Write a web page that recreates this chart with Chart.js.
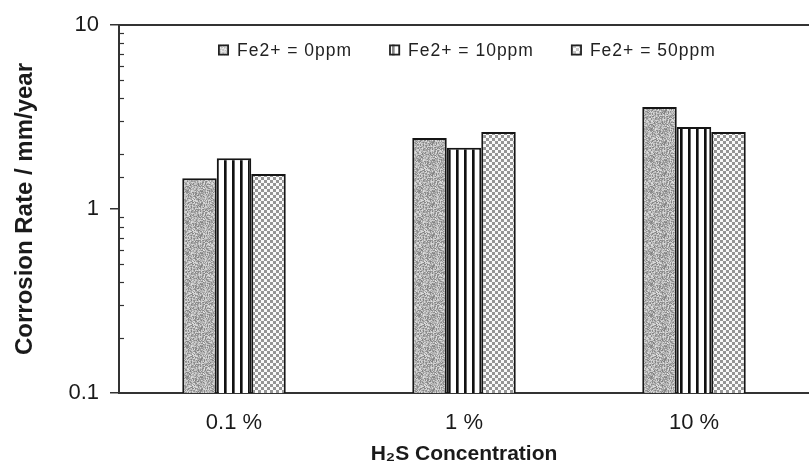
<!DOCTYPE html>
<html>
<head>
<meta charset="utf-8">
<script src="https://cdn.jsdelivr.net/npm/chart.js@4.4.1/dist/chart.umd.min.js"></script>
<style>
  html, body { margin: 0; padding: 0; background: #fff; }
  #wrap { width: 809px; height: 467px; }
</style>
</head>
<body>
<div id="wrap"><canvas id="chart"></canvas></div>
<script>
// data (log axis)
const categories = ['0.1 %', '1 %', '10 %'];
const seriesNames = ['Fe2+ = 0ppm', 'Fe2+ = 10ppm', 'Fe2+ = 50ppm'];
const fe0 = [1.47, 2.43, 3.58];
const fe10 = [1.89, 2.15, 2.79];
const fe50 = [1.55, 2.62, 2.62];
const yLabelled = [0.1, 1, 10];

const canvas = document.getElementById('chart');
const ctx = canvas.getContext('2d');

// fill textures for the bars
function tile(w, h, draw) {
  const c = document.createElement('canvas');
  c.width = w; c.height = h;
  draw(c.getContext('2d'));
  return ctx.createPattern(c, 'repeat');
}
function grain(x, y) {
  let h = (x * 374761393 + y * 668265263) | 0;
  h = Math.imul(h ^ (h >>> 13), 1274126177);
  return ((h ^ (h >>> 16)) >>> 0) % 97;
}
const speckle = tile(29, 31, g => {
  for (let x = 0; x < 29; x++) {
    for (let y = 0; y < 31; y++) {
      const v = 128 + grain(x, y);
      g.fillStyle = 'rgb(' + v + ',' + v + ',' + v + ')';
      g.fillRect(x, y, 1, 1);
    }
  }
});
const stripes = tile(8, 1, g => {
  g.fillStyle = '#fff'; g.fillRect(0, 0, 8, 1);
  g.fillStyle = '#111'; g.fillRect(0, 0, 2, 1);
  g.fillStyle = '#666'; g.fillRect(2, 0, 1, 1);
});
const checks = tile(6, 6, g => {
  g.fillStyle = '#fafafa'; g.fillRect(0, 0, 6, 6);
  g.fillStyle = '#959595'; g.fillRect(0, 0, 3, 3); g.fillRect(3, 3, 3, 3);
});

function isLabelled(v) {
  return yLabelled.some(l => Math.abs(v - l) < l * 1e-6);
}

const framePlugin = {
  id: 'frame',
  afterDraw(chart) {
    const c = chart.ctx, a = chart.chartArea, y = chart.scales.y;
    c.save();
    // top line of the frame
    c.strokeStyle = '#333';
    c.lineWidth = 2;
    c.beginPath(); c.moveTo(a.left - 1, a.top); c.lineTo(a.right, a.top); c.stroke();
    // minor ticks point inward
    c.lineWidth = 1.2;
    y.ticks.forEach(t => {
      if (isLabelled(t.value)) return;
      const py = Math.round(y.getPixelForValue(t.value)) + 0.5;
      c.beginPath(); c.moveTo(a.left, py); c.lineTo(a.left + 5, py); c.stroke();
    });
    // legend inside the plot
    c.font = '17.5px "Liberation Sans", Arial, sans-serif';
    c.letterSpacing = '1px';
    c.textBaseline = 'middle';
    c.textAlign = 'left';
    let x = a.left + 99;
    const cy = a.top + 25;
    chart.data.datasets.forEach(ds => {
      c.fillStyle = '#fff';
      c.fillRect(x, cy - 5.5, 11, 11);
      c.fillStyle = ds.backgroundColor;
      c.globalAlpha = 0.5;
      c.fillRect(x, cy - 5.5, 11, 11);
      c.globalAlpha = 1;
      c.strokeStyle = '#222';
      c.lineWidth = 1.8;
      c.strokeRect(x + 0.9, cy - 4.6, 9.2, 9.2);
      c.fillStyle = '#222';
      c.fillText(ds.label, x + 19, cy + 1);
      x += 19 + c.measureText(ds.label).width + 37;
    });
    c.restore();
  }
};

new Chart(canvas, {
  type: 'bar',
  data: {
    labels: categories,
    datasets: [
      { label: seriesNames[0], data: fe0, backgroundColor: speckle },
      { label: seriesNames[1], data: fe10, backgroundColor: stripes },
      { label: seriesNames[2], data: fe50, backgroundColor: checks }
    ]
  },
  options: {
    responsive: true,
    maintainAspectRatio: false,
    animation: false,
    layout: { padding: { top: 25, right: 0, left: 0, bottom: 0 } },
    datasets: {
      bar: {
        borderColor: '#151515',
        borderWidth: 2,
        barPercentage: 1,
        categoryPercentage: 0.45
      }
    },
    plugins: {
      legend: { display: false },
      tooltip: { enabled: false }
    },
    scales: {
      x: {
        afterFit(s) { s.height = 74; },
        grid: { display: true, drawOnChartArea: false, drawTicks: false },
        border: { display: true, color: '#333', width: 2 },
        ticks: {
          color: '#1a1a1a',
          padding: 17,
          font: { family: '"Liberation Sans", Arial, sans-serif', size: 22 }
        },
        title: {
          display: true,
          text: 'H₂S Concentration',
          color: '#1a1a1a',
          padding: { top: 0, bottom: 0 },
          font: { family: '"Liberation Sans", Arial, sans-serif', size: 21, weight: 'bold' }
        }
      },
      y: {
        type: 'logarithmic',
        min: 0.1,
        max: 10,
        afterFit(s) { s.width = 119; },
        grid: {
          display: true,
          drawOnChartArea: false,
          drawTicks: true,
          tickLength: 9,
          lineWidth: 1.5,
          color: c => (c.tick && isLabelled(c.tick.value)) ? '#333' : 'rgba(0,0,0,0)'
        },
        border: { display: true, color: '#333', width: 2 },
        ticks: {
          autoSkip: false,
          color: '#1a1a1a',
          padding: 11,
          font: { family: '"Liberation Sans", Arial, sans-serif', size: 22 },
          callback: v => isLabelled(v) ? String(v) : ''
        },
        title: {
          display: true,
          text: 'Corrosion Rate / mm/year',
          color: '#1a1a1a',
          padding: { top: 11, bottom: 0 },
          font: { family: '"Liberation Sans", Arial, sans-serif', size: 24, weight: 'bold' }
        }
      }
    }
  },
  plugins: [framePlugin]
});
</script>
</body>
</html>
